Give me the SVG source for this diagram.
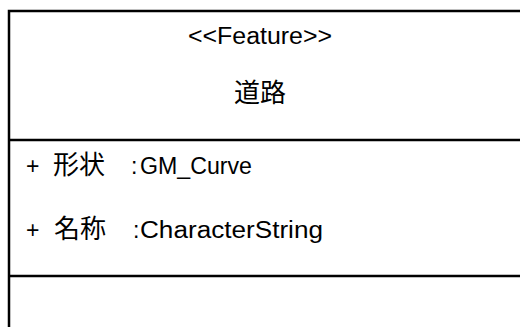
<svg xmlns="http://www.w3.org/2000/svg" width="520" height="327" viewBox="0 0 520 327">
<style>
.ln{stroke:#000;stroke-width:2.5;fill:none}
.lat{font-family:"Liberation Sans","Noto Sans CJK JP",sans-serif;font-size:23px;fill:#000}
.cjk{font-family:"Noto Sans CJK JP",sans-serif;font-size:26px;fill:#000}
</style>
<rect width="520" height="327" fill="#fff"/>
<g id="class-road">
<rect class="ln" x="9" y="11" width="530" height="340"/>
<line class="ln" x1="9" y1="140" x2="530" y2="140"/>
<line class="ln" x1="9" y1="276" x2="530" y2="276"/>
<text class="lat" x="188" y="44" textLength="144" lengthAdjust="spacingAndGlyphs">&lt;&lt;Feature&gt;&gt;</text>
<text class="cjk" x="260" y="102" text-anchor="middle">道路</text>
<text class="lat" x="26" y="174">+</text>
<text class="cjk" x="53" y="174">形状</text>
<text class="lat" x="131" y="174">:</text>
<text class="lat" x="140" y="174" textLength="112" lengthAdjust="spacingAndGlyphs">GM_Curve</text>
<text class="lat" x="26" y="238">+</text>
<text class="cjk" x="54" y="238">名称</text>
<text class="lat" x="133" y="238">:</text>
<text class="lat" x="140" y="238" textLength="183" lengthAdjust="spacingAndGlyphs">CharacterString</text>
</g>
</svg>
